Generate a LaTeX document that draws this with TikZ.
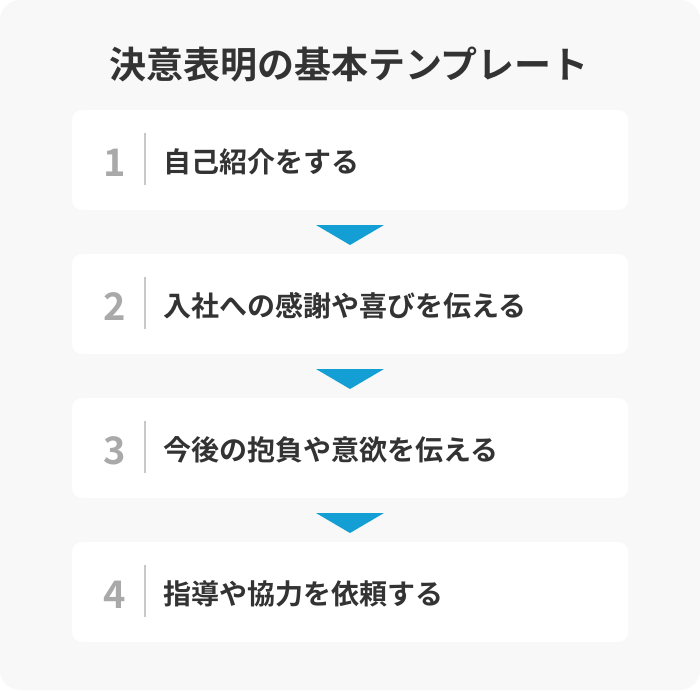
\documentclass[tikz,border=0pt]{standalone}
\usepackage{fontspec}
\setmainfont{Noto Sans CJK JP}[BoldFont={Noto Sans CJK JP Bold}]
\definecolor{bgc}{HTML}{F8F8F8}
\definecolor{txt}{HTML}{333333}
\definecolor{numc}{HTML}{A9A9A9}
\definecolor{sepc}{HTML}{C8C8C8}
\definecolor{tri}{HTML}{149FD4}
\tikzset{
  stepbox/.style={fill=white, rounded corners=10pt},
  numlabel/.style={text=numc, font=\bfseries\fontsize{38}{38}\selectfont, anchor=center, inner sep=0pt},
  steptext/.style={text=txt, font=\bfseries\fontsize{28}{28}\selectfont, anchor=west, inner sep=0pt},
  sepline/.style={draw=sepc, line width=1.5pt},
  arrowtri/.style={fill=tri}
}
\begin{document}
\begin{tikzpicture}[x=1pt,y=-1pt]
\useasboundingbox (0,0) rectangle (700,690);
\fill[white] (0,0) rectangle (700,690);
\fill[bgc, rounded corners=20pt] (0,0) rectangle (700,690);
\node[text=txt, font=\bfseries\fontsize{37}{37}\selectfont, inner sep=0pt] (title) at (349,65) {決意表明の基本テンプレート};
\foreach \i/\t [count=\k from 0] in {1/自己紹介をする,2/入社への感謝や喜びを伝える,3/今後の抱負や意欲を伝える,4/指導や協力を依頼する}{
  \pgfmathsetmacro{\yy}{160+144*\k}
  \fill[stepbox] (72,\yy-50) rectangle (628,\yy+50);
  \node[numlabel] (n\i) at (115,\yy+3) {\i};
  \draw[sepline] (145,\yy-27) -- (145,\yy+25);
  \node[steptext] (s\i) at (163,\yy+2) {\t};
}
\foreach \k in {0,1,2}{
  \pgfmathsetmacro{\ty}{225+144*\k}
  \fill[arrowtri] (316,\ty) -- (384,\ty) -- (350,\ty+20) -- cycle;
}
\end{tikzpicture}
\end{document}
